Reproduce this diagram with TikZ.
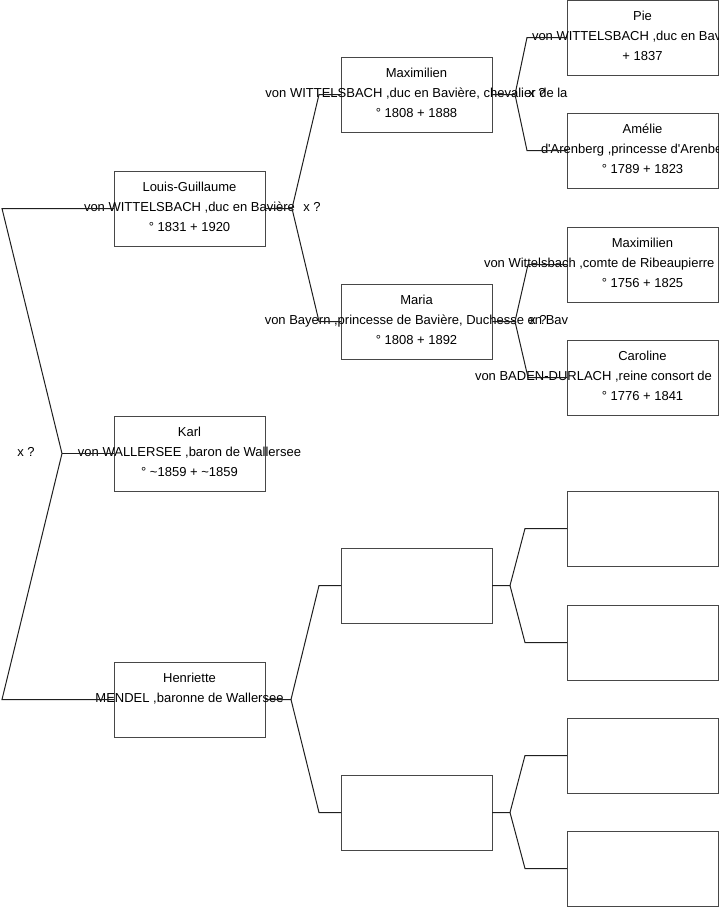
\documentclass[tikz,border=0pt]{standalone}
\usepackage{fontspec}
\setmainfont{Liberation Sans}
\begin{document}
\begin{tikzpicture}[x=1pt,y=-1pt,
  pbox/.style={draw=black!72, line width=1pt, minimum width=151pt, minimum height=75pt, inner sep=0pt, outer sep=0pt},
  ptext/.style={font=\fontsize{13}{20}\selectfont, inner sep=0pt, outer sep=0pt, anchor=base},
  pleft/.style={ptext, anchor=base west},
  link/.style={draw=black!88, line width=1pt}]
\useasboundingbox (0,0) rectangle (719,908);
\clip (0,0) rectangle (719,908);
\newcommand\pers[6]{%
  \node[pbox] (#1) at (#2,#3+37.5) {};
  \node[ptext] (#1-a) at (#2,#3+20) {#4};
  \node[ptext] (#1-b) at (#2,#3+40) {#5};
  \node[ptext] (#1-c) at (#2,#3+60) {#6};
}
\newcommand\fork[5]{%
  \draw[link] (#1.east) -- ([xshift=#4]#1.east) coordinate (#1-v) -- ([xshift=-#5]#2.west) -- (#2.west);
  \draw[link] (#1-v) -- ([xshift=-#5]#3.west) -- (#3.west);
}
% generation 1
\pers{lg}{189.5}{171}{Louis-Guillaume}{von WITTELSBACH ,duc en Bavière}{° 1831 + 1920}
\pers{karl}{189.5}{416}{Karl}{von WALLERSEE ,baron de Wallersee}{° \textasciitilde1859 + \textasciitilde1859}
\pers{hen}{189.5}{662}{Henriette}{MENDEL ,baronne de Wallersee}{}
% generation 2
\pers{max}{416.5}{57}{Maximilien}{von WITTELSBACH ,duc en Bavière, chevalier de la}{° 1808 + 1888}
\pers{maria}{416.5}{284}{Maria}{von Bayern ,princesse de Bavière, Duchesse en Bav}{° 1808 + 1892}
\pers{ea}{416.5}{548}{}{}{}
\pers{eb}{416.5}{775}{}{}{}
% generation 3
\pers{pie}{642.5}{0}{Pie}{}{+ 1837}
\node[pleft] (pie-l) at (532,40) {von WITTELSBACH ,duc en Bavière};
\pers{ame}{642.5}{113}{Amélie}{}{° 1789 + 1823}
\node[pleft] (ame-l) at (541,153) {d\textquotesingle Arenberg ,princesse d\textquotesingle Arenberg};
\pers{maxb}{642.5}{227}{Maximilien}{}{° 1756 + 1825}
\node[pleft] (maxb-l) at (484,267) {von Wittelsbach ,comte de Ribeaupierre};
\pers{car}{642.5}{340}{Caroline}{}{° 1776 + 1841}
\node[pleft] (car-l) at (475,380) {von BADEN-DURLACH ,reine consort de};
\pers{ec}{642.5}{491}{}{}{}
\pers{ed}{642.5}{605}{}{}{}
\pers{ee}{642.5}{718}{}{}{}
\pers{ef}{642.5}{831}{}{}{}
% connectors
\draw[link] (lg.west) -- ([xshift=-112]lg.west) -- ([xshift=-52]karl.west) coordinate (root-v) -- ([xshift=-112]hen.west) -- (hen.west);
\draw[link] (root-v) -- (karl.west);
\fork{lg}{max}{maria}{27}{22}
\fork{hen}{ea}{eb}{26}{22}
\fork{max}{pie}{ame}{23}{40}
\fork{maria}{maxb}{car}{23}{39}
\fork{ea}{ec}{ed}{18}{42}
\fork{eb}{ee}{ef}{18}{42}
% marriage marks
\node[ptext] (m0) at (26,456) {x ?};
\node[ptext] (m1) at (312,211) {x ?};
\node[ptext] (m2) at (537,97) {x ?};
\node[ptext] (m3) at (538,324) {x ?};
\end{tikzpicture}
\end{document}
